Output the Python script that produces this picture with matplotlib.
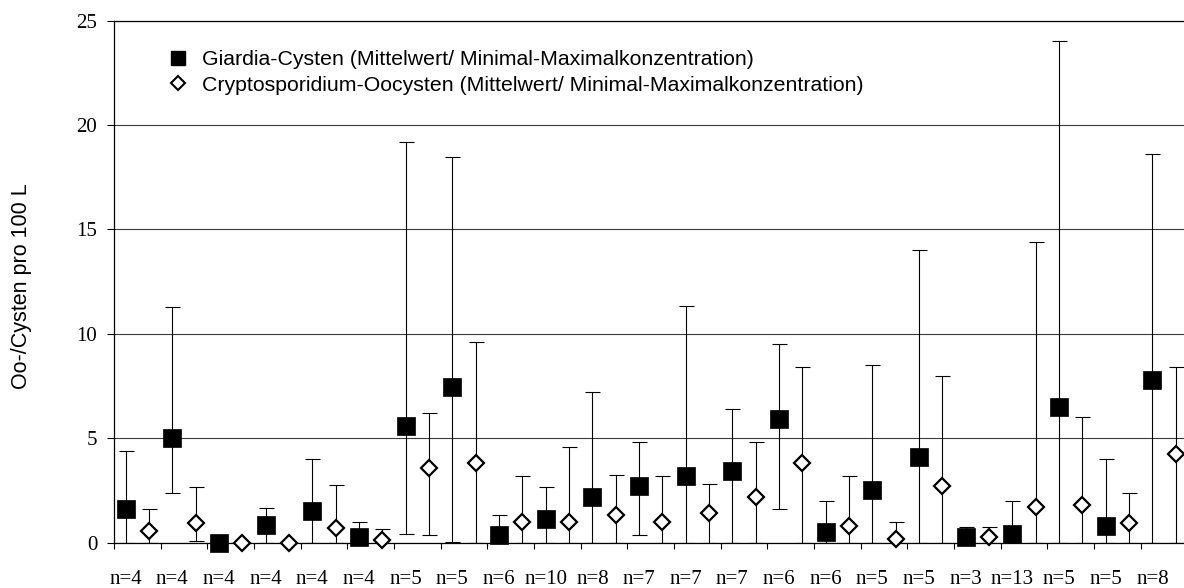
import matplotlib
matplotlib.use("Agg")
import matplotlib.pyplot as plt
import numpy as np
from matplotlib.lines import Line2D

# ---- data ----
n_labels = ['n=4', 'n=4', 'n=4', 'n=4', 'n=4', 'n=4', 'n=5', 'n=5', 'n=6', 'n=10',
            'n=8', 'n=7', 'n=7', 'n=7', 'n=6', 'n=6', 'n=5', 'n=5', 'n=3', 'n=13',
            'n=5', 'n=5', 'n=8']

giardia_mean = [1.60, 5.00, 0.00, 0.85, 1.52, 0.26, 5.60, 7.46, 0.35, 1.12,
                2.17, 2.71, 3.20, 3.42, 5.93, 0.50, 2.51, 4.09, 0.26, 0.42,
                6.52, 0.80, 7.81]
giardia_min = [0.00, 2.40, 0.00, 0.00, 0.00, 0.00, 0.42, 0.03, 0.00, 0.00,
               0.00, 0.38, 0.00, 0.00, 1.61, 0.00, 0.00, 0.00, 0.00, 0.00,
               0.00, 0.00, 0.00]
giardia_max = [4.41, 11.28, 0.00, 1.68, 4.00, 0.98, 19.20, 18.45, 1.34, 2.68,
               7.22, 4.80, 11.31, 6.40, 9.51, 2.00, 8.49, 14.02, 0.77, 2.01,
               24.03, 4.00, 18.60]

crypto_mean = [0.58, 0.96, 0.00, 0.00, 0.72, 0.13, 3.60, 3.80, 0.99, 1.01,
               1.34, 0.99, 1.40, 2.20, 3.80, 0.80, 0.19, 2.71, 0.29, 1.70,
               1.79, 0.96, 4.25]
crypto_min = [0.00, 0.07, 0.00, 0.00, 0.00, 0.00, 0.38, 0.00, 0.00, 0.00,
              0.00, 0.00, 0.00, 0.00, 0.00, 0.00, 0.00, 0.00, 0.00, 0.00,
              0.00, 0.00, 0.00]
crypto_max = [1.60, 2.67, 0.00, 0.00, 2.78, 0.67, 6.21, 9.60, 3.19, 4.60,
              3.26, 3.19, 2.79, 4.80, 8.41, 3.19, 0.98, 8.00, 0.77, 14.41,
              6.01, 2.40, 8.41]

legend_labels = ['Giardia-Cysten (Mittelwert/ Minimal-Maximalkonzentration)',
                 'Cryptosporidium-Oocysten (Mittelwert/ Minimal-Maximalkonzentration)']
y_label = 'Oo-/Cysten pro 100 L'
y_ticks = [0, 5, 10, 15, 20, 25]

# ---- figure ----
W, H = 1184, 588
fig = plt.figure(figsize=(W / 100, H / 100), dpi=100)
ax = fig.add_axes([114 / W, (H - 542.7) / H, 1073.4 / W, 522.2 / H])

ncat = len(n_labels)
idx = np.arange(ncat)
xg = idx + 0.25
xc = idx + 0.75

gm = np.array(giardia_mean); cm = np.array(crypto_mean)
g_err = [gm - np.array(giardia_min), np.array(giardia_max) - gm]
c_err = [cm - np.array(crypto_min), np.array(crypto_max) - cm]

eb_kw = dict(fmt='none', ecolor='black', elinewidth=0.8, capsize=5.4,
             capthick=0.8, zorder=3)
ax.errorbar(xg, gm, yerr=g_err, **eb_kw)
ax.errorbar(xc, cm, yerr=c_err, **eb_kw)

ax.plot(xg, gm, linestyle='none', marker='s', markersize=12.5,
        markerfacecolor='black', markeredgecolor='black', markeredgewidth=0.5,
        zorder=5, clip_on=False)
ax.plot(xc, cm, linestyle='none', marker='D', markersize=8,
        markerfacecolor='white', markeredgecolor='black', markeredgewidth=1.6,
        zorder=5, clip_on=False)

ax.set_xlim(0, ncat)
ax.set_ylim(0, 25)

# grid
ax.set_yticks(y_ticks)
ax.yaxis.grid(True, color='#3a3a3a', linewidth=0.8)
ax.set_axisbelow(True)

ax.spines['right'].set_visible(False)
ax.spines['top'].set_linewidth(0.9)
ax.spines['left'].set_linewidth(0.9)
ax.spines['bottom'].set_linewidth(0.9)

serif = 'Liberation Serif'
sans = 'Liberation Sans'

ax.tick_params(axis='y', direction='out', length=5, width=0.8, pad=7,
               labelsize=15)
for lab in ax.get_yticklabels():
    lab.set_fontfamily(serif)

ax.set_xticks(np.arange(ncat + 1))
ax.set_xticklabels([])
ax.tick_params(axis='x', which='major', direction='out', length=4, width=0.8)
ax.set_xticks(xg, minor=True)
ax.set_xticklabels(n_labels, minor=True, fontfamily=serif, fontsize=15)
ax.tick_params(axis='x', which='minor', length=0, pad=20)

ax.set_ylabel(y_label, fontfamily=sans, fontsize=15.5)
ax.yaxis.set_label_coords((32 - 114) / 1073.4, (542.7 - 286) / 522.2)

handles = [
    Line2D([], [], linestyle='none', marker='s', markersize=9.5,
           markerfacecolor='black', markeredgecolor='black'),
    Line2D([], [], linestyle='none', marker='D', markersize=6.8,
           markerfacecolor='white', markeredgecolor='black', markeredgewidth=1.5),
]
leg = fig.legend(handles, legend_labels, loc='upper left',
                 bbox_to_anchor=(167 / W, 1 - 50 / H), frameon=False,
                 prop={'family': sans, 'size': 15.3}, handlelength=1.0,
                 handletextpad=0.63, borderpad=0, borderaxespad=0,
                 labelspacing=0.32)

fig.savefig('out.png', dpi=100)
